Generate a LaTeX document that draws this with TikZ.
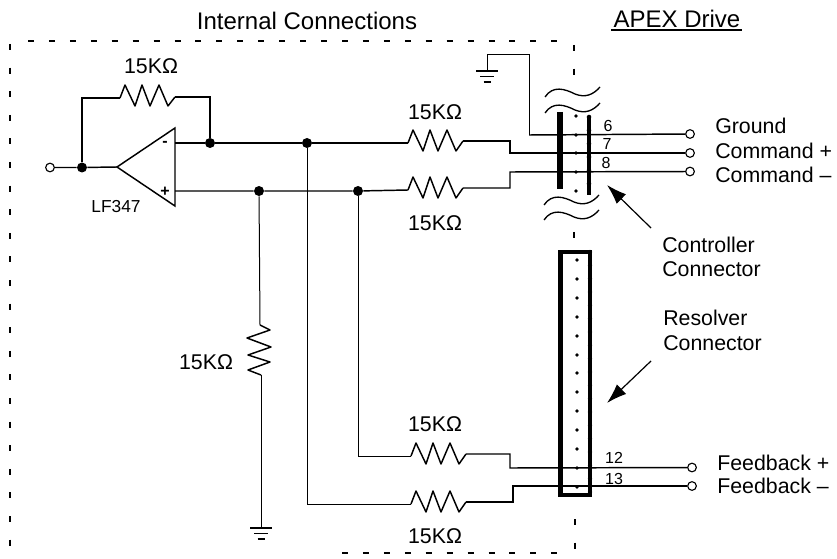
\documentclass[tikz,border=0pt]{standalone}
\usepackage{fontspec}
\setmainfont{Liberation Sans}
\usetikzlibrary{arrows.meta}
\tikzset{
  x=0.75pt,y=-0.75pt,
  wire/.style={line width=1.1pt,line join=miter},
  thin wire/.style={line width=0.75pt},
  txt/.style={font=\fontsize{16}{18}\selectfont,inner sep=0pt},
  head/.style={font=\fontsize{18}{20}\selectfont,inner sep=0pt},
  pin/.style={font=\fontsize{12}{14}\selectfont,inner sep=0pt},
  term/.style={circle,draw,line width=0.85pt,fill=white,minimum size=6.5pt,inner sep=0pt},
  jn/.style={circle,fill=black,minimum size=7.5pt,inner sep=0pt},
  bound/.style={line width=0.95pt,dash pattern=on 4.5pt off 11.2pt},
  boundv/.style={line width=0.9pt,dash pattern=on 4.5pt off 13.2pt},
  wavy/.style={line width=1pt},
  ptr/.style={line width=0.9pt,-{Latex[length=15pt,width=10pt]}}
}
% horizontal resistor: name, x, y (left end), y offset of the right end
\newcommand{\resH}[4]{%
  \coordinate (#1l) at (#2,#3);
  \coordinate (#1r) at (#2+55,#3+#4);
  \draw[wire,line join=round] (#1l) -- ++(5,-13) -- ++(10,21) -- ++(7,-21) -- ++(8,21) -- ++(9,-21) -- ++(9,21) -- (#1r);
}
\newcommand{\wavyline}[2]{%
  \draw[wavy] (#1,#2) .. controls (#1+8,#2-12) and (#1+20,#2-8) .. (#1+30,#2-3) .. controls (#1+40,#2+1) and (#1+48,#2-2) .. (#1+55,#2-10);
}
\newcommand{\gnd}[3]{%
  \draw[line width=1pt] (#1-11,#2) -- (#1+11,#2);
  \draw[line width=1.1pt] (#1-7,#2+5.5) -- (#1+7,#2+5.5);
  \draw[line width=1.3pt] (#1-3.5,#2+11) -- (#1+3.5,#2+11);
  \coordinate (#3) at (#1,#2);
}
\begin{document}
\begin{tikzpicture}
\useasboundingbox (0,0) rectangle (837,559);
% boundary
\coordinate (bTL) at (10,44);
\coordinate (bBL) at (10,559);
\coordinate (tL) at (28,41);
\coordinate (tR) at (566,41);
\coordinate (bmL) at (342,553);
\coordinate (bmR) at (572,553);
\coordinate (rT) at (574,45);
\coordinate (rTe) at (574,76);
\coordinate (rM) at (574,232);
\coordinate (rMe) at (574,242);
\coordinate (rB) at (575,519);
\coordinate (rBe) at (575,550);
\draw[boundv] (bTL) -- (bBL);
\draw[bound] (tL) -- (tR);
\draw[bound] (bmL) -- (bmR);
\draw[boundv] (rT) -- (rTe);
\draw[boundv] (rM) -- (rMe);
\draw[boundv] (rB) -- (rBe);
% op amp
\coordinate (opTip) at (117,167);
\coordinate (opT) at (175,128);
\coordinate (opB) at (175,206);
\draw[wire,line join=miter] (opTip) -- (opT) -- (opB) -- cycle;
\node[font=\fontsize{12}{12}\selectfont\bfseries,inner sep=0pt] (minus) at (165,144) {-};
\node[font=\fontsize{12}{12}\selectfont\bfseries,inner sep=0pt] (plus) at (165,192) {+};
\coordinate (opM) at (175,143);
\coordinate (opP) at (175,191);
% terminals and junctions
\node[term] (in) at (50,167.5) {};
\node[jn] (j1) at (82,167.5) {};
\node[jn] (j2) at (210,143) {};
\node[jn] (j3) at (307,143) {};
\node[jn] (j4) at (259,191) {};
\node[jn] (j5) at (358,191) {};
\node[term] (t6) at (690,134) {};
\node[term] (t7) at (690,153) {};
\node[term] (t8) at (690,171.5) {};
\node[term] (t12) at (692,467.5) {};
\node[term] (t13) at (692,486) {};
% resistors
\resH{rf}{120}{98}{-1}
\resH{r1}{408}{143}{-2}
\resH{r2}{408}{190}{-2}
\resH{r3}{411}{456}{-2}
\resH{r4}{411}{504}{-2}
\coordinate (rvT) at (260,325);
\coordinate (rvB) at (261,375);
\draw[wire,line join=round] (rvT) -- (270,330) -- (247,338) -- (271,347) -- (248,355) -- (270,362) -- (248,370) -- (rvB);
% grounds
\gnd{487}{71}{g1}
\gnd{261}{528}{g2}
% wiring
\draw[wire] (in) -- (j1) -- (opTip);
\draw[wire] (j1) |- (rfl);
\draw[wire] (rfr) -| (j2);
\draw[wire] (opM) -- (j2) -- (j3) -- (r1l);
\draw[wire] (opP) -- (j4) -- (j5) -- (r2l);
\draw[thin wire] (j4) -- (rvT);
\draw[thin wire] (rvB) -- (g2);
\draw[thin wire] (j3) |- (r4l);
\draw[thin wire] (j5) |- (r3l);
\coordinate (c1a) at (510,141);
\coordinate (c1b) at (510,153);
\coordinate (c2a) at (510,188);
\coordinate (c2b) at (510,172);
\coordinate (c3a) at (510,454);
\coordinate (c3b) at (510,468);
\coordinate (c4a) at (513,502);
\coordinate (c4b) at (513,486);
\coordinate (g1a) at (487,55);
\coordinate (g1b) at (529,55);
\coordinate (g1c) at (529,135);
\draw[wire] (r1r) -- (c1a) -- (c1b) -- (t7);
\draw[wire] (r2r) -- (c2a) -- (c2b) -- (t8);
\draw[wire] (r3r) -- (c3a) -- (c3b) -- (t12);
\draw[wire] (r4r) -- (c4a) -- (c4b) -- (t13);
\draw[thin wire] (g1) -- (g1a) -- (g1b) -- (g1c);
\draw[wire] (g1c) -- (t6);
% controller connector
\coordinate (cb1) at (560,112);
\coordinate (cb2) at (560,189);
\coordinate (cb3) at (589,117);
\coordinate (cb4) at (589,195);
\draw[line width=3.8pt] (cb1) -- (cb2);
\draw[line width=2.3pt] (cb3) -- (cb4);
\draw[line width=3.4pt,line cap=round,dash pattern=on 0pt off 10pt] (cb3) -- (cb4);
\foreach \yy in {116,135,153,172,191}{\fill (576,\yy) circle (1.4pt);}
\wavyline{545}{97}
\wavyline{545}{113}
\wavyline{544}{205}
\wavyline{544}{220}
% resolver connector
\coordinate (rc1) at (560.5,252);
\coordinate (rc2) at (590,252);
\coordinate (rc3) at (590,495);
\coordinate (rc4) at (560.5,495);
\draw[line width=3.4pt,line join=miter] (rc1) -- (rc2) -- (rc3) -- (rc4) -- cycle;
\draw[line width=3.2pt,line cap=round,dash pattern=on 0pt off 10pt] (rc2) -- (rc3);
\foreach \yy in {260,279,298,317,336,355,373,392,411,430,449,468,487}{\fill (577,\yy) circle (1.4pt);}
% arrows
\coordinate (a1s) at (651,228);
\coordinate (a1e) at (607,185);
\coordinate (a2s) at (651,361);
\coordinate (a2e) at (607,403);
\draw[ptr] (a1s) -- (a1e);
\draw[ptr] (a2s) -- (a2e);
% labels
\node[head] (ttl) at (307,20.5) {Internal Connections};
\node[head] (apex) at (677,18.5) {APEX Drive};
\coordinate (ul) at (611,30);
\coordinate (ur) at (742,30);
\draw[line width=1pt] (ul) -- (ur);
\node[txt] (l1) at (151,66) {15KΩ};
\node[txt] (l2) at (435,112) {15KΩ};
\node[txt] (l3) at (435,223) {15KΩ};
\node[txt] (l4) at (206,362) {15KΩ};
\node[txt] (l5) at (435,424) {15KΩ};
\node[txt] (l6) at (435,536) {15KΩ};
\node[font=\fontsize{13}{14}\selectfont,inner sep=0pt] (lf) at (116,207) {LF347};
\node[pin] (p6) at (608,126) {6};
\node[pin] (p7) at (607,144) {7};
\node[pin] (p8) at (606,163) {8};
\node[pin] (p12) at (614,458) {12};
\node[pin] (p13) at (614,479) {13};
\node[txt,anchor=west] (n1) at (715,126) {Ground};
\node[txt,anchor=west] (n2) at (715,151) {Command +};
\node[txt,anchor=west] (n3) at (715,175) {Command –};
\node[txt,anchor=west] (n4) at (662,245) {Controller};
\node[txt,anchor=west] (n5) at (662,269) {Connector};
\node[txt,anchor=west] (n6) at (663,318) {Resolver};
\node[txt,anchor=west] (n7) at (663,343) {Connector};
\node[txt,anchor=west] (n8) at (717,463) {Feedback +};
\node[txt,anchor=west] (n9) at (717,486) {Feedback –};
\end{tikzpicture}
\end{document}
